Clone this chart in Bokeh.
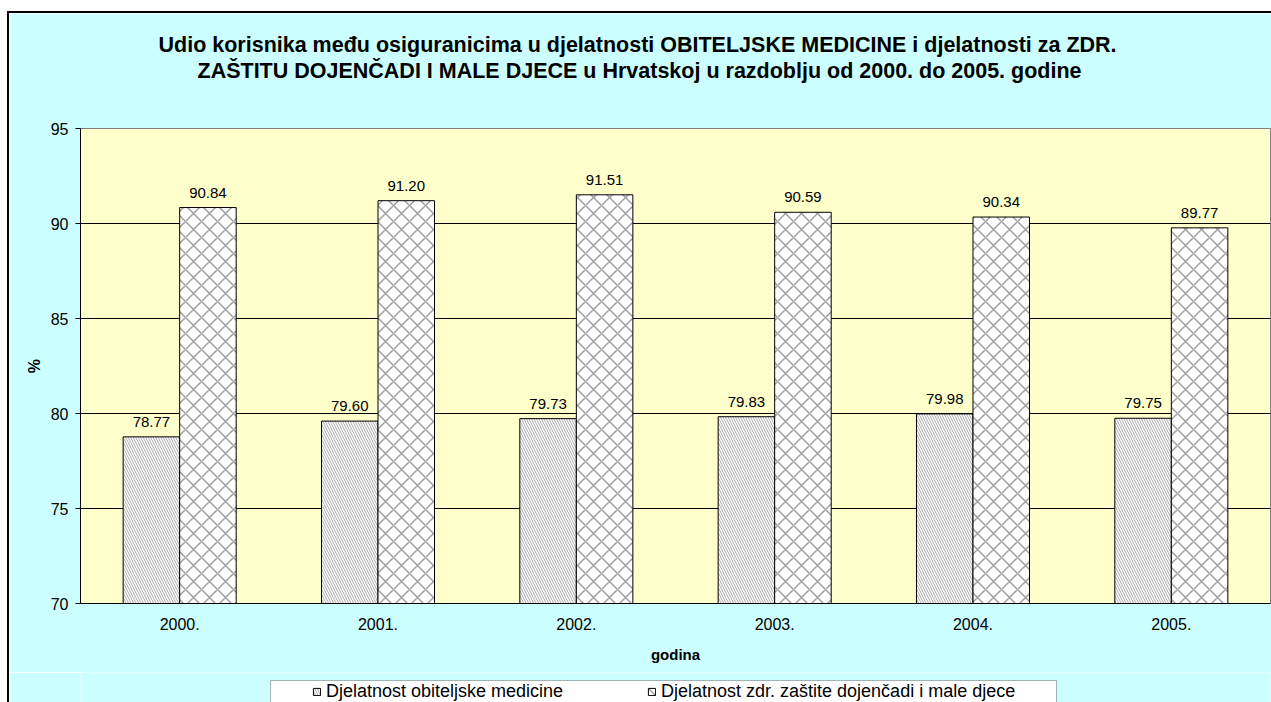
from bokeh.plotting import figure
from bokeh.layouts import column
from bokeh.models import (FactorRange, Range1d, ColumnDataSource, Legend, LegendItem,
                          Title, FixedTicker, BoxAnnotation)
from bokeh.core.properties import value
from bokeh.transform import dodge
from bokeh.embed import file_html
from bokeh.resources import INLINE

years = ["2000.", "2001.", "2002.", "2003.", "2004.", "2005."]
obiteljska = [78.77, 79.60, 79.73, 79.83, 79.98, 79.75]
dojencad = [90.84, 91.20, 91.51, 90.59, 90.34, 89.77]
series_names = ["Djelatnost obiteljske medicine",
                "Djelatnost zdr. zaštite dojenčadi i male djece"]
y_ticks = [70, 75, 80, 85, 90, 95]
title_lines = ["Udio korisnika među osiguranicima u djelatnosti OBITELJSKE MEDICINE i djelatnosti za ZDR.",
               "ZAŠTITU DOJENČADI I MALE DJECE u Hrvatskoj u razdoblju od 2000. do 2005. godine"]

FONT = "Liberation Sans"
CYAN = "#CCFFFF"
y_min, y_max = y_ticks[0], y_ticks[-1]

STYLE_A = dict(fill_color="white", line_color="black", line_width=1,
               hatch_pattern="left_diagonal_line", hatch_color="#ababab",
               hatch_scale=5, hatch_weight=1)
STYLE_B = dict(fill_color="white", line_color="black", line_width=1,
               hatch_pattern="diagonal_cross", hatch_color="#a0a0a0",
               hatch_scale=16, hatch_weight=1.5)

src = ColumnDataSource(dict(
    x=years, a=obiteljska, b=dojencad,
    la=[f"{v:.2f}" for v in obiteljska],
    lb=[f"{v:.2f}" for v in dojencad],
))

W = 1262
BL, BR = 71, 1  # left / right borders shared by both figures
p = figure(x_range=FactorRange(*years), y_range=Range1d(y_min, y_max),
           width=W, height=659, output_backend="svg", toolbar_location=None,
           title=None, min_border_left=BL, min_border_right=BR,
           min_border_top=115, min_border_bottom=69)
p.border_fill_color = CYAN
p.background_fill_color = "#FFFFCC"
p.outline_line_color = "#808080"

bw = 0.285
r1 = p.vbar(x=dodge("x", -bw / 2, range=p.x_range), top="a", bottom=y_min, width=bw,
            source=src, **STYLE_A)
r2 = p.vbar(x=dodge("x", bw / 2, range=p.x_range), top="b", bottom=y_min, width=bw,
            source=src, **STYLE_B)

for col, lab, sign in (("a", "la", -1), ("b", "lb", 1)):
    p.text(x=dodge("x", sign * bw / 2, range=p.x_range), y=col, text=lab, source=src,
           y_offset=-15, text_align="center", text_baseline="alphabetic",
           text_font=value(FONT), text_font_size="15px", text_color="black")

# axes
p.yaxis.ticker = FixedTicker(ticks=y_ticks)
p.ygrid.ticker = FixedTicker(ticks=y_ticks)
p.ygrid.grid_line_color = "black"
p.xgrid.grid_line_color = None
for ax in (p.xaxis[0], p.yaxis[0]):
    ax.axis_line_color = "black"
    ax.major_label_text_font = FONT
    ax.major_label_text_font_size = "16px"
    ax.major_label_text_color = "black"
    ax.minor_tick_line_color = None
    ax.axis_label_text_font = FONT
    ax.axis_label_text_font_style = "bold"
    ax.axis_label_text_color = "black"
p.yaxis.major_tick_out = 5
p.yaxis.major_tick_in = 0
p.yaxis.major_tick_line_color = "black"
p.yaxis.major_label_standoff = 7
p.yaxis.axis_label = "%"
p.yaxis.axis_label_text_font_size = "16px"
p.yaxis.axis_label_standoff = 5
p.xaxis.major_tick_line_color = None
p.xaxis.major_tick_out = 0
p.xaxis.major_tick_in = 0
p.xaxis.major_label_standoff = 14
p.xaxis.axis_label = "godina"
p.xaxis.axis_label_text_font_size = "15px"
p.xaxis.axis_label_standoff = 13

# titles: spacer closest to the frame, then line 2, then line 1
p.add_layout(Title(text=" ", text_font_size="2px", standoff=42, text_color=CYAN), "above")
p.add_layout(Title(text=title_lines[1], align="left", offset=117, text_font=FONT,
                   text_font_size="21.5px", text_font_style="bold", text_color="black",
                   standoff=0), "above")
p.add_layout(Title(text=title_lines[0], align="left", offset=78, text_font=FONT,
                   text_font_size="21.5px", text_font_style="bold", text_color="black",
                   standoff=0), "above")

# legend strip (separate small figure underneath, x in page pixels)
p2 = figure(width=W, height=30, x_range=Range1d(9 + BL, 9 + W - BR), y_range=Range1d(0, 30),
            output_backend="svg", toolbar_location=None, title=None,
            min_border_left=BL, min_border_right=BR, min_border_top=0, min_border_bottom=0,
            x_axis_type=None, y_axis_type=None)
p2.border_fill_color = CYAN
p2.background_fill_color = CYAN
p2.outline_line_color = None
p2.grid.grid_line_color = None
p2.add_layout(BoxAnnotation(left=270, right=1056, top=22, bottom=-10,
                            fill_color="white", fill_alpha=1,
                            line_color="black", line_width=1))
swatch = ColumnDataSource(dict(x=[0], top=[0]))
g1 = p2.vbar(x="x", top="top", width=0, source=swatch, **STYLE_A)
g2 = p2.vbar(x="x", top="top", width=0, source=swatch, **STYLE_B)
legend = Legend(items=[LegendItem(label=series_names[0], renderers=[g1], index=0),
                       LegendItem(label=series_names[1], renderers=[g2], index=0)],
                orientation="horizontal", location=(312 - 9 - BL, 0), padding=0,
                spacing=0, margin=0, glyph_width=9, glyph_height=9,
                label_standoff=5, label_width=321, label_height=20,
                label_text_font=FONT, label_text_font_size="18px",
                label_text_color="black",
                background_fill_alpha=0, border_line_color=None)
p2.add_layout(legend, "center")

layout = column(p, p2, spacing=0,
                styles={"margin-left": "7px", "margin-top": "11px",
                        "border-left": "2px solid black", "border-top": "2px solid black"})

open("out.html", "w").write(file_html(layout, INLINE))
